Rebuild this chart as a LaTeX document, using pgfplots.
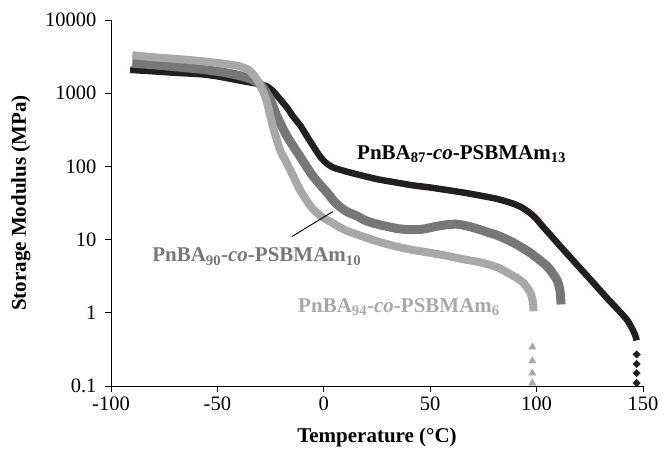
\documentclass[border=0pt]{standalone}
\usepackage{fontspec}
\setmainfont{Liberation Serif}
\usepackage{pgfplots}
\pgfplotsset{compat=1.18}
\definecolor{cblack}{HTML}{231F20}
\definecolor{cdark}{HTML}{77777A}
\definecolor{clight}{HTML}{A8A8AA}
\begin{document}
\begin{tikzpicture}
\path[use as bounding box] (-111pt,-65pt) rectangle (554pt,386pt);
\begin{axis}[
  at={(0,0)}, anchor=south west,
  scale only axis, width=532pt, height=366pt,
  xmin=-100, xmax=150, ymin=0.1, ymax=10000,
  ymode=log, yminorticks=false,
  axis x line*=bottom, axis y line*=left,
  axis line style={black, line width=0.9pt, -},
  tick align=outside, major tick length=6pt,
  tick style={black, line width=0.9pt},
  xtick={-100,-50,0,50,100,150},
  xticklabels={-100,-50,0,50,100,150},
  ytick={0.1,1,10,100,1000,10000},
  yticklabels={0.1,1,10,100,1000,10000},
  ticklabel style={font=\fontsize{20.5}{24}\selectfont},
  yticklabel style={xshift=-5pt},
  xticklabel style={yshift=-1pt},
  xlabel={\textbf{Temperature (\textdegree C)}},
  ylabel={\textbf{Storage Modulus (MPa)}},
  label style={font=\fontsize{21}{25}\selectfont},
  xlabel style={at={(axis description cs:0.5,0)}, anchor=center, yshift=-51pt},
  ylabel style={at={(axis description cs:0,0.5)}, anchor=center, yshift=90pt},
  clip=false,
]
\addplot[cblack, line width=6.5pt, line join=round, smooth, tension=0.4] coordinates {
(-91,2080) (-80,1990) (-70,1900) (-58,1820) (-50,1700) (-38,1460) (-32,1360) (-27,1250) (-24,1080) (-20.6,830) (-17,620) (-14.5,484) (-11,360) (-7.9,258) (-5,190) (-1.8,137) (1,112) (4.3,97) (10,86) (15.6,78) (25,67) (34.4,60) (42,55) (50,51.5) (58,47.5) (65.4,44) (73.4,40) (81.4,36) (89,31) (93,27.5) (97,23) (100,19) (103,15) (106,12) (109.6,9.1) (115,6.1) (120,4.2) (126,2.7) (133,1.6) (138,1.12) (142.5,0.8) (145,0.6) (146.5,0.48) (147,0.42)
};
\addplot[cdark, line width=9pt, line join=round, smooth, tension=0.4] coordinates {
(-90,2570) (-80,2450) (-70,2300) (-58,2130) (-48,1950) (-40,1750) (-34,1550) (-30.5,1350) (-28.6,1200) (-25,800) (-22,484) (-17.3,258) (-11.2,137) (-5,73) (1.5,44) (5,33) (7.6,28) (11,24) (15.6,21) (20,18) (26,16) (34.4,14.2) (40,13.7) (46.6,13.9) (52,15) (57.9,16) (63,16.2) (68.7,15) (73.4,13.7) (77,12.6) (81.4,11.5) (89,9.1) (97,6.6) (105,4.3) (109.6,2.8) (111,2.0) (111.5,1.3)
};
\addplot[clight, line width=8pt, line join=round, smooth, tension=0.4] coordinates {
(-90,3300) (-80,3100) (-70,2950) (-58,2750) (-48,2550) (-40,2350) (-35,2050) (-31.4,1540) (-28.5,1050) (-26.7,750) (-23.9,350) (-20.6,170) (-18,120) (-15.9,91) (-11.2,48) (-8,34) (-5,26) (-1,20.5) (3,17.6) (10,13.5) (18.4,11) (26,9.3) (34.4,8) (42,7.2) (50,6.6) (58,6) (65.4,5.4) (73.4,4.9) (81.4,4.2) (89,3.2) (93.6,2.6) (97,1.9) (98.3,1.4) (98.5,1.05)
};
\addplot[only marks, mark=triangle*, mark size=4.2pt, clight] coordinates {
(98,0.34) (98,0.22) (98,0.15) (98,0.11)
};
\addplot[only marks, mark=square*, mark size=2.6pt, mark options={rotate=45}, cblack] coordinates {
(147,0.27) (147,0.2) (147,0.15) (147,0.11)
};
\draw[black, line width=0.9pt] (axis cs:-15,11) -- (axis cs:4.3,24.2);
\node[anchor=west, font=\fontsize{21}{25}\selectfont\bfseries, text=black, inner sep=0pt] at (axis cs:15.6,146) {PnBA\textsubscript{87}-\textit{co}-PSBMAm\textsubscript{13}};
\node[anchor=west, font=\fontsize{21}{25}\selectfont\bfseries, text=cdark, inner sep=0pt] at (axis cs:-80.7,5.85) {PnBA\textsubscript{90}-\textit{co}-PSBMAm\textsubscript{10}};
\node[anchor=west, font=\fontsize{21}{25}\selectfont\bfseries, text=clight, inner sep=0pt] at (axis cs:-12.1,1.21) {PnBA\textsubscript{94}-\textit{co}-PSBMAm\textsubscript{6}};
\end{axis}
\end{tikzpicture}
\end{document}
